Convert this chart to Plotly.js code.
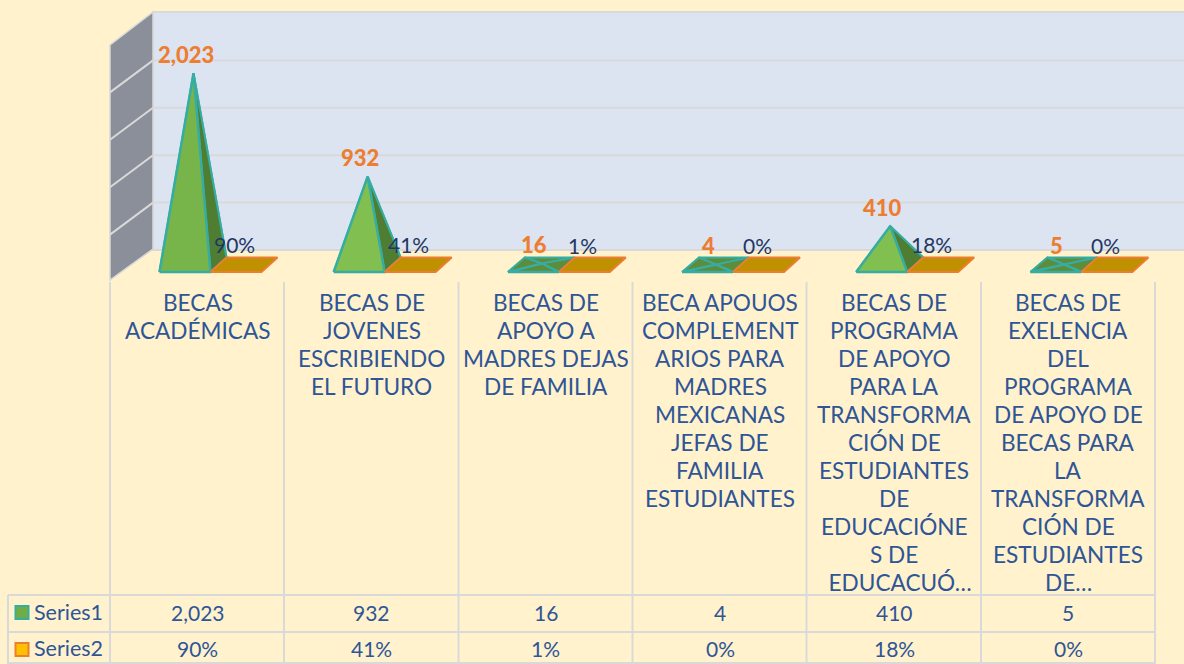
<!DOCTYPE html>
<html><head><meta charset="utf-8">
<script src="https://cdn.plot.ly/plotly-3.0.1.min.js"></script>
<style>html,body{margin:0;padding:0;background:#fff2cc;overflow:hidden}#c{width:1184px;height:664px}</style>
</head><body><div id="c"></div>
<script>
// ---- data ----
const categories = [
  "BECAS|ACADÉMICAS",
  "BECAS DE|JOVENES|ESCRIBIENDO|EL FUTURO",
  "BECAS DE|APOYO A|MADRES DEJAS|DE FAMILIA",
  "BECA APOUOS|COMPLEMENT|ARIOS PARA|MADRES|MEXICANAS|JEFAS DE|FAMILIA|ESTUDIANTES",
  "BECAS DE|PROGRAMA|DE APOYO|PARA LA|TRANSFORMA|CIÓN DE|ESTUDIANTES|DE|EDUCACIÓNE|S DE|\u00A0\u00A0EDUCACUÓ…",
  "BECAS DE|EXELENCIA|DEL|PROGRAMA|DE APOYO DE|BECAS PARA|LA|TRANSFORMA|CIÓN DE|ESTUDIANTES|DE…"
];
const series1 = [2023, 932, 16, 4, 410, 5];
const series2 = [0.90, 0.41, 0.01, 0, 0.18, 0];
const series1Labels = ["2,023", "932", "16", "4", "410", "5"];
const series2Labels = ["90%", "41%", "1%", "0%", "18%", "0%"];
const seriesNames = ["Series1", "Series2"];
const gridTicks = [0, 500, 1000, 1500, 2000, 2500];

// ---- layout constants (pixel geometry of the 3D frame) ----
const W = 1184, H = 664;
const C0 = 197.5, STEP = 174.17;      // category centre, spacing (px)
const Y0 = 265, PPU = 0.0948;         // zero line, pixels per value unit
const xRange = [(0 - C0) / STEP, (W - C0) / STEP];
const yRange = [(Y0 - H) / PPU, Y0 / PPU];
const dx = px => px / STEP;           // px offset -> x units
const dy = px => px / PPU;            // px offset (up) -> y units
const px = x => x / W, py = y => 1 - y / H;

const TEAL = "#36ADA3", ORANGE = "#ED7D31", LINE = "#D9D9D9";
const fontFam = "Lato, 'Open Sans', sans-serif";
const traces = [];

function poly(xs, ys, fill, line, w) {
  traces.push({x: xs.concat(xs[0]), y: ys.concat(ys[0]), mode: "lines", fill: "toself",
    fillcolor: fill, line: {color: line, width: w}, hoverinfo: "skip", showlegend: false});
}
// Pyramid on a parallelogram base, series 1 and series 2
series1.forEach((v, i) => {
  const fl = i + dx(-38), fr = i + dx(13), bl = i + dx(-21), br = i + dx(29), ax = i + dx(-4);
  const fy = dy(-7), by = dy(7.5);
  const flat = v < 100;
  const dark = flat ? "#5D8C3A" : "#4F7D31";
  const front = flat ? "#5D8C3A" : (v > 1000 ? "#77B54B" : "#80BF50");
  poly([bl, br, ax], [by, by, v], dark, TEAL, 2);
  poly([fl, bl, ax], [fy, by, v], dark, TEAL, 2);
  poly([fr, br, ax], [fy, by, v], dark, TEAL, 2);
  poly([fl, fr, ax], [fy, fy, v], front, TEAL, 2.5);
});
series2.forEach((v, i) => {
  const s = dx(51);
  const fl = i + dx(13), fr = fl + s, bl = i + dx(29), br = bl + s;
  poly([fl, fr, br, bl], [dy(-7) , dy(-7), dy(7.5), dy(7.5)], "#BF9000", ORANGE, 2);
});

// ---- frame ----
const shapes = [];
function rect(x0, y0, x1, y1, fill, line, w) {
  shapes.push({type: "rect", xref: "paper", yref: "paper", x0: px(x0), x1: px(x1), y0: py(y0), y1: py(y1),
    fillcolor: fill, line: {color: line, width: w}, layer: "below"});
}
function seg(x0, y0, x1, y1, c, w) {
  shapes.push({type: "line", xref: "paper", yref: "paper", x0: px(x0), x1: px(x1), y0: py(y0), y1: py(y1),
    line: {color: c, width: w}, layer: "below"});
}
rect(153, 12, 1190, 250, "#DCE3F1", LINE, 2);
shapes.push({type: "path", xref: "paper", yref: "paper",
  path: `M ${px(110)} ${py(45)} L ${px(153)} ${py(12)} L ${px(153)} ${py(249)} L ${px(110)} ${py(280)} Z`,
  fillcolor: "#8A8F99", line: {color: LINE, width: 1.5}, layer: "below"});
gridTicks.forEach(t => {
  const gy = 250 - t * PPU;
  if (t > 0 && t < 2500) {
    seg(153, gy, 1184, gy, LINE, 2);
    seg(153, gy, 110, gy + 32, LINE, 2);
  }
});
// table
const tableX = [110, 284, 458.5, 632.5, 806.5, 981, 1155];
tableX.forEach(x => seg(x, 282, x, 664, LINE, 2));
seg(8, 595, 1155, 595, LINE, 2);
seg(8, 632, 1155, 632, LINE, 2);
seg(8, 663, 1155, 663, LINE, 2);
seg(8, 595, 8, 664, LINE, 2);
rect(15.5, 606, 28.5, 619, "#70AD47", TEAL, 2);
rect(15.5, 643, 28.5, 656, "#FFC000", ORANGE, 2);

// ---- text ----
const annotations = [];
function txt(x, y, text, size, color, bold, opts) {
  annotations.push(Object.assign({x, y, xref: "x", yref: "y", text, showarrow: false,
    xanchor: "center", yanchor: "middle",
    font: {family: fontFam, size, color, weight: bold ? 900 : 400}}, opts || {}));
}
series1.forEach((v, i) => txt(i, v, series1Labels[i], 22, ORANGE, true, {xshift: -12, yshift: 19}));
series2.forEach((v, i) => txt(i, v, series2Labels[i], 21, "#1F3864", false, {xshift: 37, yshift: 20}));
const rowY = [dy(Y0 - 612), dy(Y0 - 648)];
categories.forEach((c, i) => {
  c.split("|").forEach((ln, k) => txt(i, dy(Y0 - (302.5 + 28 * k)), ln, 22.6, "#2F5597", false));
  txt(i, rowY[0], series1Labels[i], 21, "#2F5597", false);
  txt(i, rowY[1], series2Labels[i], 21, "#2F5597", false);
});
seriesNames.forEach((n, k) => annotations.push({xref: "paper", yref: "y", x: px(32), y: rowY[k], text: n,
  showarrow: false, xanchor: "left", yanchor: "middle", font: {family: fontFam, size: 21.5, color: "#2F5597"}}));

Plotly.newPlot("c", traces, {
  width: W, height: H, margin: {l: 0, r: 0, t: 0, b: 0},
  paper_bgcolor: "#FFF2CC", plot_bgcolor: "rgba(0,0,0,0)", showlegend: false,
  xaxis: {range: xRange, visible: false, fixedrange: true},
  yaxis: {range: yRange, visible: false, fixedrange: true},
  shapes, annotations
}, {displayModeBar: false, staticPlot: true});
</script></body></html>
